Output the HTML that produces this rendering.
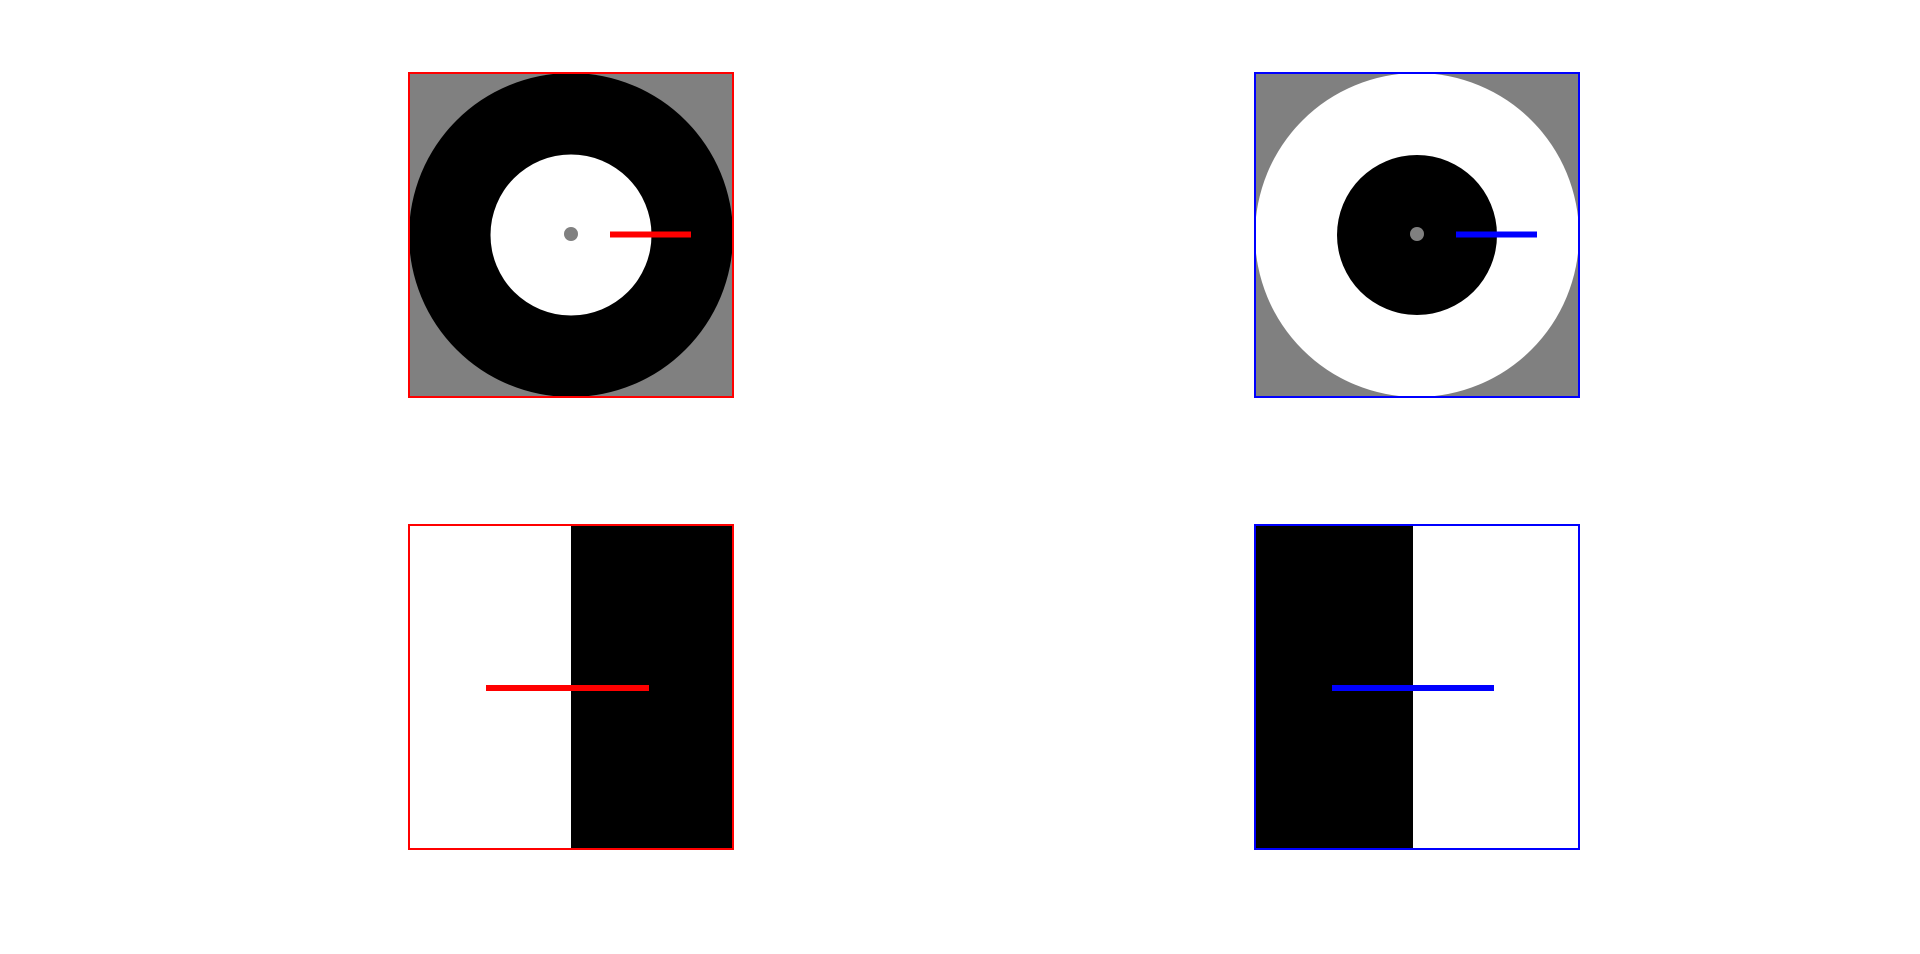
<!DOCTYPE html>
<html><head><meta charset="utf-8"><style>body{margin:0;background:#fff}svg{display:block}</style></head>
<body>
<svg width="1920" height="954" viewBox="0 0 1920 954">
<rect width="1920" height="954" fill="#fff"/>
<g>
<rect x="409" y="73" width="324" height="324" fill="#808080"/>
<circle cx="571" cy="235" r="162" fill="#000"/>
<circle cx="571" cy="235" r="80.5" fill="#fff"/>
<circle cx="571" cy="234" r="7" fill="#808080"/>
<rect x="610" y="231.5" width="81" height="6" fill="#f00"/>
<rect x="409" y="73" width="324" height="324" fill="none" stroke="#f00" stroke-width="2"/>
</g>
<g>
<rect x="1255" y="73" width="324" height="324" fill="#808080"/>
<circle cx="1417" cy="235" r="162" fill="#fff"/>
<circle cx="1417" cy="235" r="80" fill="#000"/>
<circle cx="1417" cy="234" r="7" fill="#808080"/>
<rect x="1456" y="231.5" width="81" height="6" fill="#00f"/>
<rect x="1255" y="73" width="324" height="324" fill="none" stroke="#00f" stroke-width="2"/>
</g>
<g>
<rect x="409" y="525" width="324" height="324" fill="#fff"/>
<rect x="571" y="525" width="162" height="324" fill="#000"/>
<rect x="486" y="685" width="163" height="6" fill="#f00"/>
<rect x="409" y="525" width="324" height="324" fill="none" stroke="#f00" stroke-width="2"/>
</g>
<g>
<rect x="1255" y="525" width="324" height="324" fill="#fff"/>
<rect x="1255" y="525" width="158" height="324" fill="#000"/>
<rect x="1332" y="685" width="162" height="6" fill="#00f"/>
<rect x="1255" y="525" width="324" height="324" fill="none" stroke="#00f" stroke-width="2"/>
</g>
</svg>
</body></html>
